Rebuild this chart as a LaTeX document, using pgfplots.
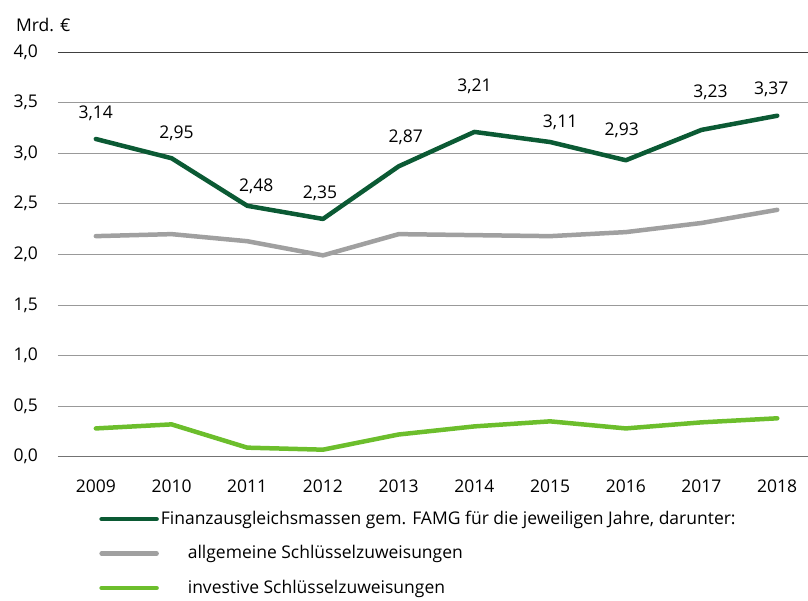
\documentclass[border=0pt]{standalone}
\usepackage{pgfplots}
\pgfplotsset{compat=1.18}
\usepackage{pgfplotstable}
\usepackage{fontspec}
\setmainfont{Open Sans}

\definecolor{clrDark}{HTML}{0B5A34}
\definecolor{clrGray}{HTML}{A0A0A0}
\definecolor{clrLight}{HTML}{6CBE2C}
\definecolor{clrGrid}{HTML}{999999}

% year, value, label, label offsets (bp)
\pgfplotstableread{
x    y     lab   dy  dx
2009 3.14  3,14  26  0
2010 2.95  2,95  25  5
2011 2.48  2,48  20  9
2012 2.35  2,35  26  -3
2013 2.87  2,87  29  7
2014 3.21  3,21  46  0
2015 3.11  3,11  20  10
2016 2.93  2,93  30  -4
2017 3.23  3,23  38  9
2018 3.37  3,37  26  -6
}\famg

\pgfplotstableread{
x    y
2009 2.18
2010 2.20
2011 2.13
2012 1.99
2013 2.20
2014 2.19
2015 2.18
2016 2.22
2017 2.31
2018 2.44
}\allg

\pgfplotstableread{
x    y
2009 0.28
2010 0.32
2011 0.09
2012 0.07
2013 0.22
2014 0.30
2015 0.35
2016 0.28
2017 0.34
2018 0.38
}\inv

\newcommand\chartfont{\fontsize{17.5bp}{21bp}\selectfont}

\begin{document}
\chartfont
\begin{tikzpicture}
\begin{axis}[
  scale only axis,
  width=750bp, height=405bp,
  xmin=2008.5, xmax=2018.4,
  ymin=0, ymax=4,
  axis line style={draw=none},
  tick style={draw=none},
  xtick={2009,...,2018},
  ytick={0,0.5,...,4},
  ymajorgrids,
  grid style={clrGrid, line width=0.9bp},
  x tick label style={/pgf/number format/1000 sep={}, yshift=-17bp},
  y tick label style={/pgf/number format/use comma, /pgf/number format/fixed,
    /pgf/number format/fixed zerofill, /pgf/number format/precision=1,
    anchor=east, xshift=-14bp},
  /pgf/number format/assume math mode=true,
  ticklabel style={font=\chartfont},
  legend style={at={(0.051,-0.124)}, anchor=north west, draw=none, fill=none,
    font=\chartfont, row sep=14.5bp},
  legend cell align=left,
  legend image code/.code={\draw[#1, line cap=round] (0bp,0bp) -- (55bp,0bp);},
  every axis plot/.append style={line width=4.5bp, line cap=round, line join=round},
  clip=false,
]
\draw[black!75, line width=0.9bp] (axis cs:2008.5,4) -- (axis cs:2018.4,4);
\draw[black!55, line width=0.9bp] (axis cs:2008.5,0) -- (axis cs:2018.4,0);
\addplot[clrDark, no marks,
  point meta=explicit symbolic,
  visualization depends on={\thisrow{dy} \as \dy},
  visualization depends on={\thisrow{dx} \as \dx},
  nodes near coords,
  nodes near coords style={anchor=center, yshift=\dy bp, xshift=\dx bp, black,
    font=\chartfont},
] table[x=x, y=y, meta=lab] {\famg};
\addlegendentry{Finanzausgleichsmassen gem. FAMG f\"ur die jeweiligen Jahre, darunter:}
\addplot[clrGray, no marks] table[x=x, y=y] {\allg};
\addlegendentry{\hspace*{27bp}allgemeine Schl\"usselzuweisungen}
\addplot[clrLight, no marks] table[x=x, y=y] {\inv};
\addlegendentry{\hspace*{27bp}investive Schl\"usselzuweisungen}
\end{axis}
\node[anchor=west] at ([shift={(-48bp,27bp)}]current axis.north west) {Mrd. \texteuro};
\path ([shift={(-58bp,52bp)}]current axis.north west) rectangle ([shift={(0bp,-144bp)}]current axis.south east);
\end{tikzpicture}
\end{document}
